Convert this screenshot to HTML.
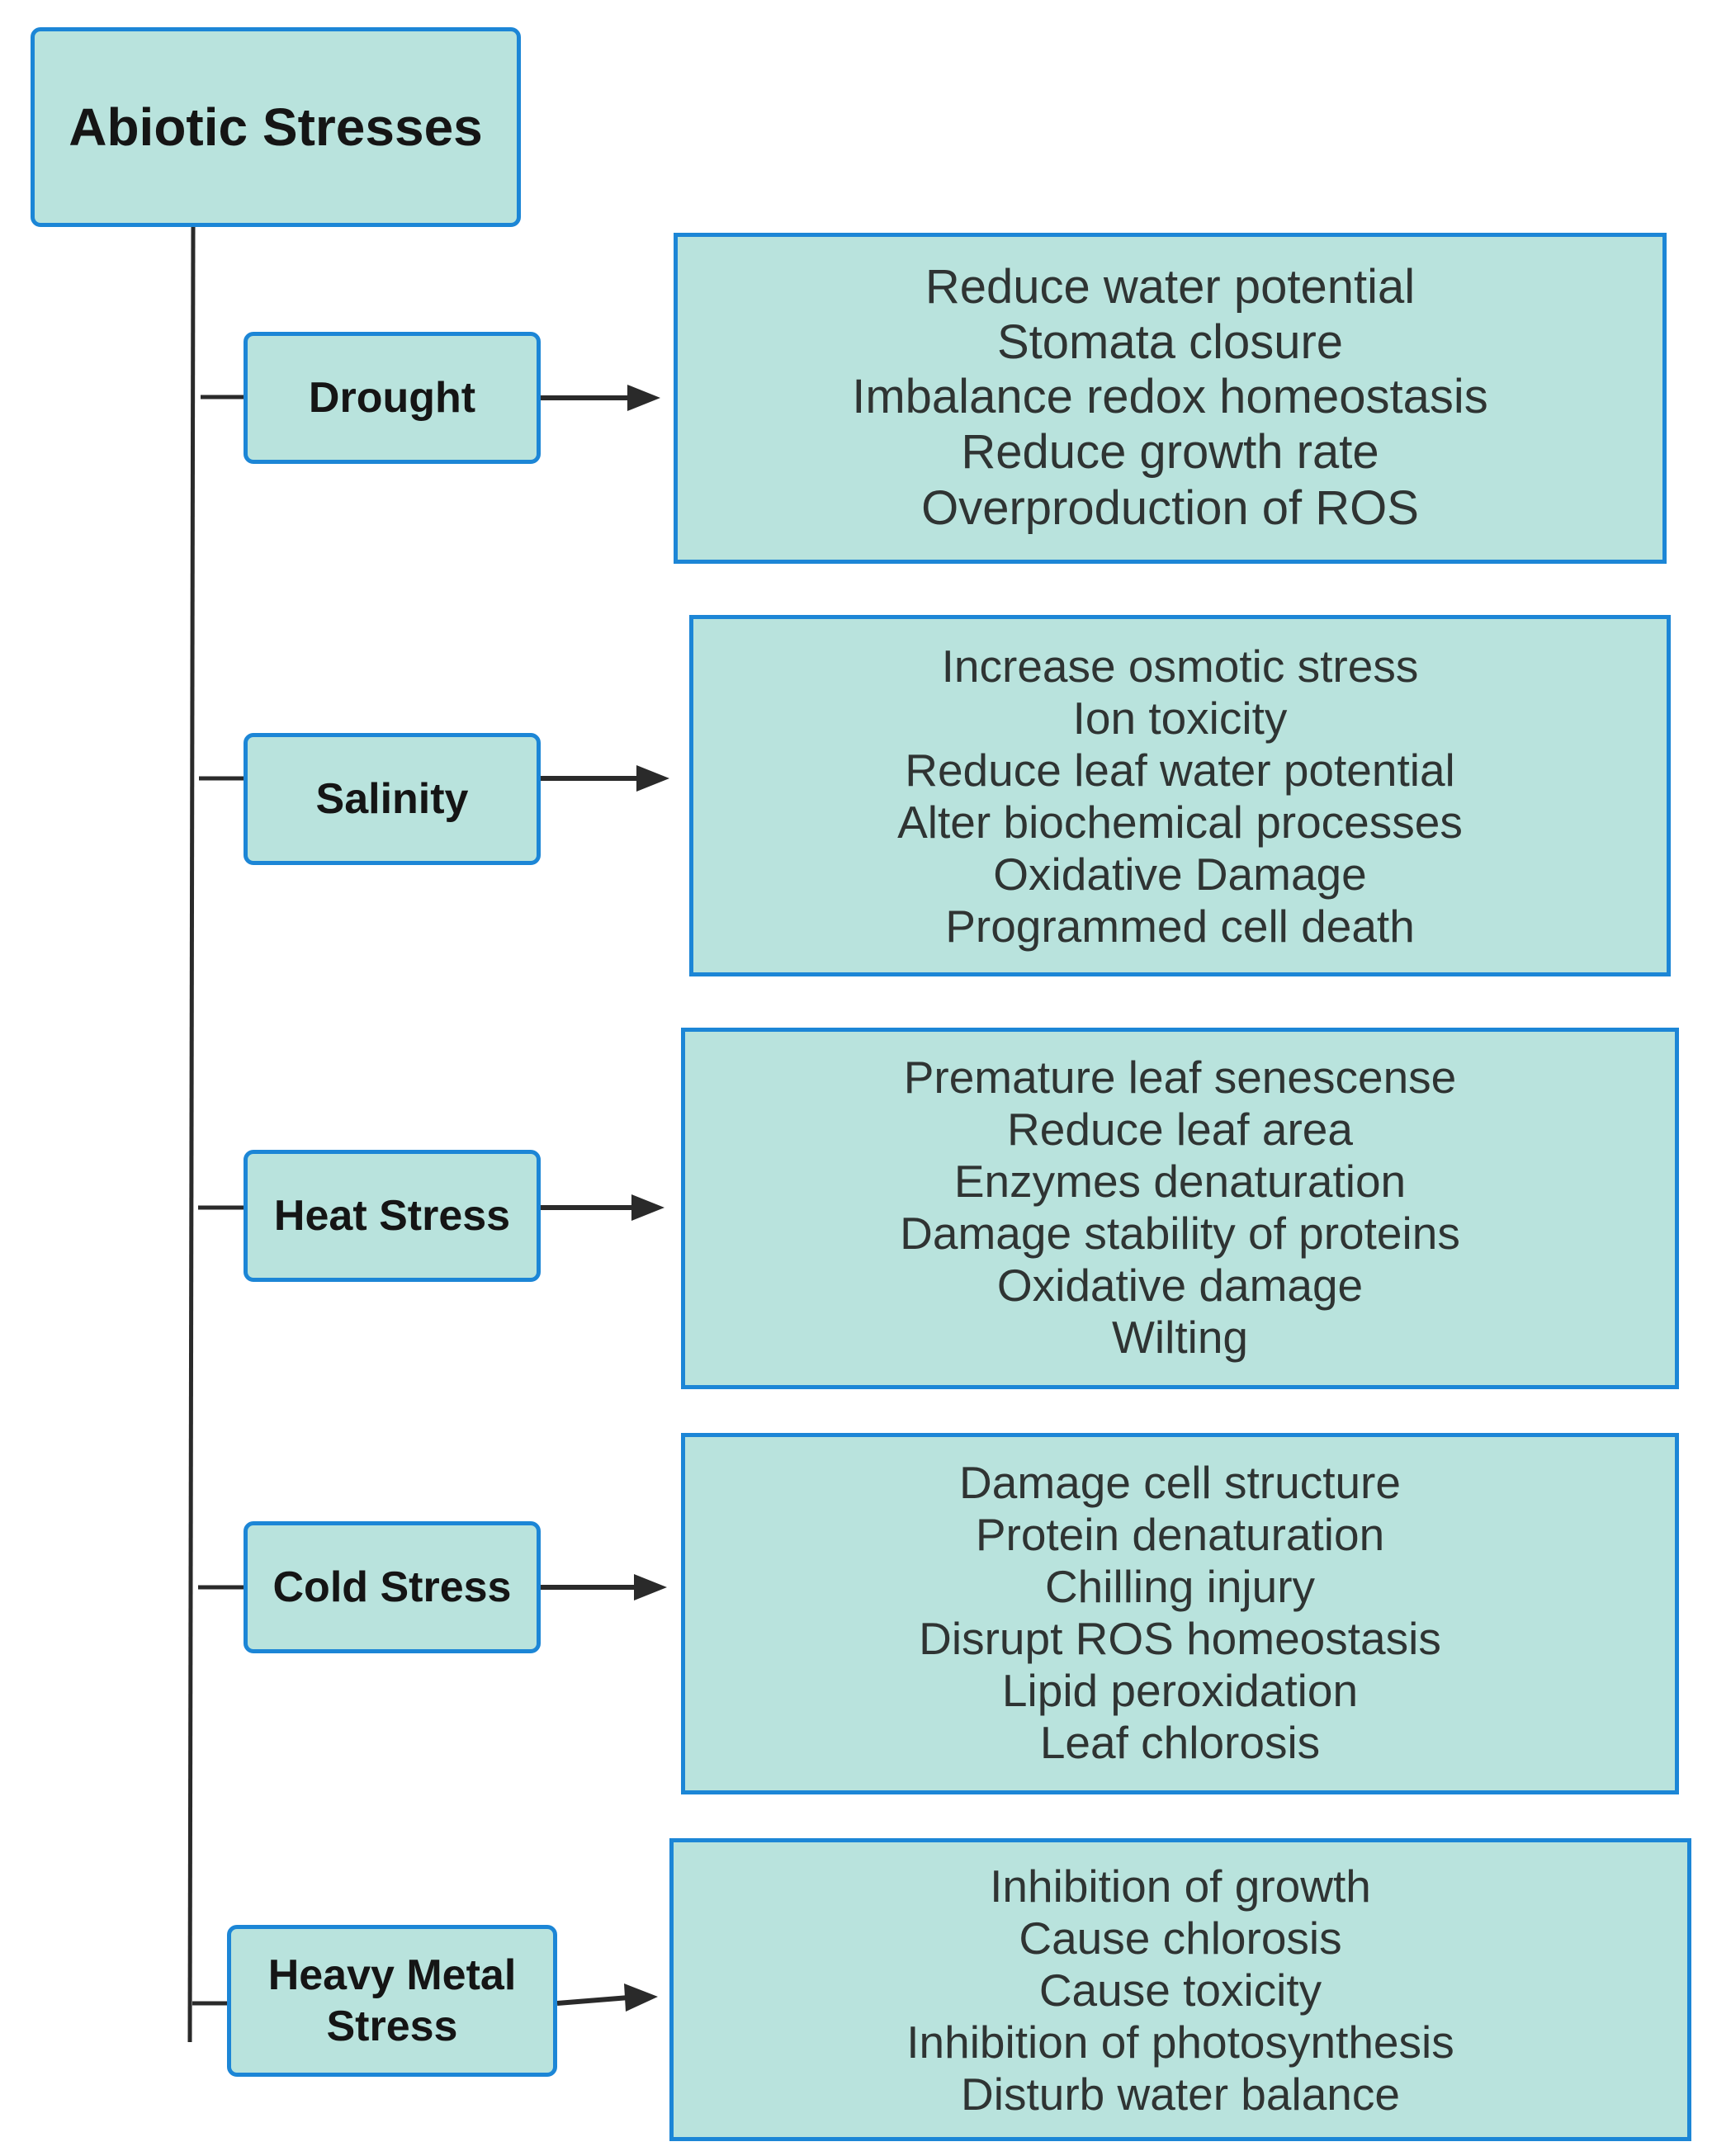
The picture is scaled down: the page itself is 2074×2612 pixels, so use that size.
<!DOCTYPE html>
<html><head><meta charset="utf-8"><style>
html,body{margin:0;padding:0;background:#fff;}
body{width:2074px;height:2612px;position:relative;overflow:hidden;font-family:"Liberation Sans",sans-serif;}
.b{position:absolute;box-sizing:border-box;background:#b9e3dd;border:5px solid #1c86d6;}
.l{border-radius:12px;display:flex;align-items:center;justify-content:center;text-align:center;font-weight:bold;color:#151515;font-size:52px;line-height:62px;}
.r .t{position:absolute;left:0;right:0;text-align:center;color:#2f3433;font-size:55px;white-space:nowrap;}
svg{position:absolute;left:0;top:0;}
</style></head><body>
<svg width="2074" height="2612">
<g stroke="#2a2a2a" stroke-width="5" fill="none">
<line x1="234" y1="275" x2="230" y2="2474"/>
<line x1="243" y1="481" x2="295" y2="481"/>
<line x1="241" y1="943" x2="295" y2="943"/>
<line x1="240" y1="1463" x2="295" y2="1463"/>
<line x1="240" y1="1923" x2="295" y2="1923"/>
<line x1="233" y1="2427" x2="275" y2="2427"/>
</g>
<g fill="#2a2a2a" stroke="#2a2a2a" stroke-width="6">
<line x1="655" y1="482" x2="765" y2="482"/><path d="M760,466 L800,482 L760,498 z" stroke="none"/>
<line x1="655" y1="943" x2="776" y2="943"/><path d="M771,927 L811,943 L771,959 z" stroke="none"/>
<line x1="655" y1="1463" x2="770" y2="1463"/><path d="M765,1447 L805,1463 L765,1479 z" stroke="none"/>
<line x1="655" y1="1923" x2="773" y2="1923"/><path d="M768,1907 L808,1923 L768,1939 z" stroke="none"/>
<line x1="675" y1="2427" x2="762" y2="2420"/><path d="M756,2403 L797,2419 L758,2437 z" stroke="none"/>
</g>
</svg>
<div class="b l" style="left:37px;top:33px;width:594px;height:242px;font-size:64px;">Abiotic Stresses</div>
<div class="b l" style="left:295px;top:402px;width:360px;height:160px;">Drought</div>
<div class="b l" style="left:295px;top:888px;width:360px;height:160px;">Salinity</div>
<div class="b l" style="left:295px;top:1393px;width:360px;height:160px;">Heat Stress</div>
<div class="b l" style="left:295px;top:1843px;width:360px;height:160px;">Cold Stress</div>
<div class="b l" style="left:275px;top:2332px;width:400px;height:184px;">Heavy Metal<br>Stress</div>

<div class="b r" style="left:816px;top:282px;width:1203px;height:401px;">
<div class="t" style="top:27px;font-size:58px">Reduce water potential</div>
<div class="t" style="top:94px;font-size:58px">Stomata closure</div>
<div class="t" style="top:160px;font-size:58px">Imbalance redox homeostasis</div>
<div class="t" style="top:227px;font-size:58px">Reduce growth rate</div>
<div class="t" style="top:295px;font-size:58px">Overproduction of ROS</div>
</div>
<div class="b r" style="left:835px;top:745px;width:1189px;height:438px;">
<div class="t" style="top:25px">Increase osmotic stress</div>
<div class="t" style="top:88px">Ion toxicity</div>
<div class="t" style="top:151px">Reduce leaf water potential</div>
<div class="t" style="top:214px">Alter biochemical processes</div>
<div class="t" style="top:277px">Oxidative Damage</div>
<div class="t" style="top:340px">Programmed cell death</div>
</div>
<div class="b r" style="left:825px;top:1245px;width:1209px;height:438px;">
<div class="t" style="top:23px">Premature leaf senescense</div>
<div class="t" style="top:86px">Reduce leaf area</div>
<div class="t" style="top:149px">Enzymes denaturation</div>
<div class="t" style="top:212px">Damage stability of proteins</div>
<div class="t" style="top:275px">Oxidative damage</div>
<div class="t" style="top:338px">Wilting</div>
</div>
<div class="b r" style="left:825px;top:1736px;width:1209px;height:438px;">
<div class="t" style="top:23px">Damage cell structure</div>
<div class="t" style="top:86px">Protein denaturation</div>
<div class="t" style="top:149px">Chilling injury</div>
<div class="t" style="top:212px">Disrupt ROS homeostasis</div>
<div class="t" style="top:275px">Lipid peroxidation</div>
<div class="t" style="top:338px">Leaf chlorosis</div>
</div>
<div class="b r" style="left:811px;top:2227px;width:1238px;height:367px;">
<div class="t" style="top:21px">Inhibition of growth</div>
<div class="t" style="top:84px">Cause chlorosis</div>
<div class="t" style="top:147px">Cause toxicity</div>
<div class="t" style="top:210px">Inhibition of photosynthesis</div>
<div class="t" style="top:273px">Disturb water balance</div>
</div>
</body></html>
